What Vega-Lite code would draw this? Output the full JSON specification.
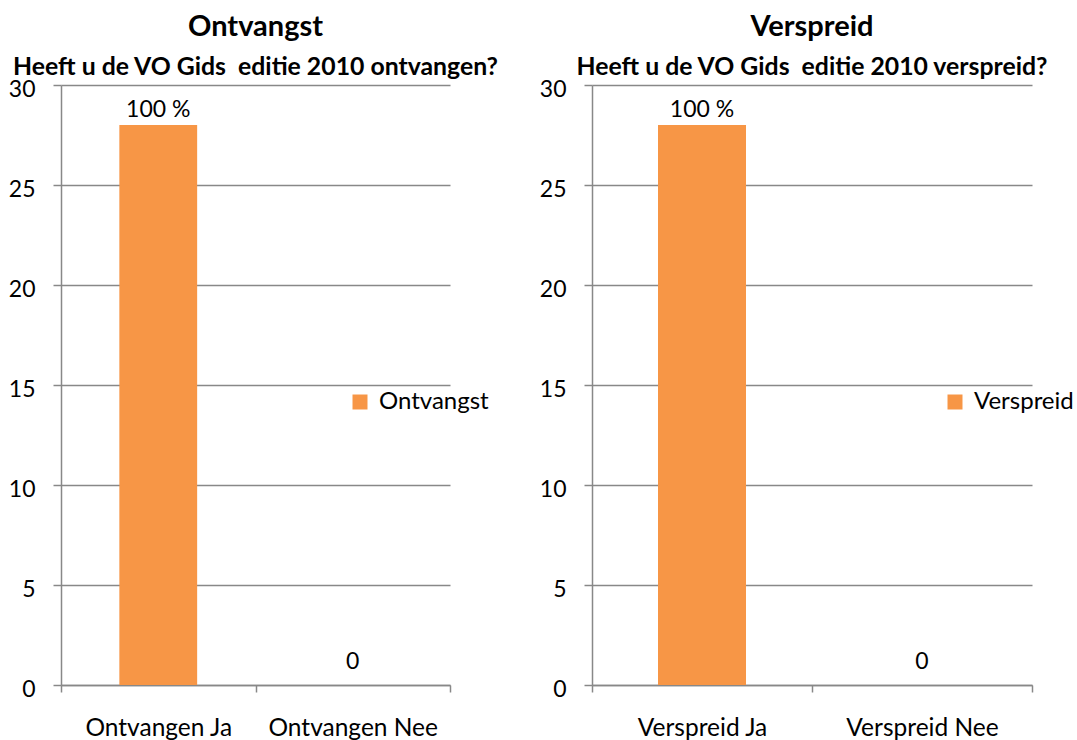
{
  "$schema": "https://vega.github.io/schema/vega-lite/v6.json",
  "padding": {"left": 8, "top": 13, "right": 5, "bottom": 0},
  "background": "white",
  "config": {
    "view": {"stroke": null},
    "font": "Lato",
    "axis": {"labelFont": "Lato", "labelFontSize": 23, "labelColor": "#000000", "domainColor": "#888888", "domainWidth": 1.5, "tickColor": "#888888", "tickWidth": 1.5, "gridColor": "#888888", "gridWidth": 1.5, "title": null},
    "title": {"font": "Lato", "fontSize": 29, "fontWeight": "bold", "color": "#000000", "subtitleFont": "Lato", "subtitleFontSize": 24.8, "subtitleFontWeight": "bold", "subtitleColor": "#000000", "anchor": "middle", "subtitlePadding": 13, "offset": -2},
    "legend": {"labelFont": "Lato", "labelFontSize": 24, "labelColor": "#000000", "symbolType": "square", "symbolSize": 225, "symbolStrokeWidth": 0, "labelOffset": 7, "title": null}
  },
  "bounds": "flush",
  "spacing": 142,
  "resolve": {"scale": {"color": "independent", "x": "independent", "y": "independent"}, "legend": {"color": "independent"}},
  "hconcat": [
    {
      "width": 389,
      "height": 600,
      "title": {"text": "Ontvangst", "subtitle": "Heeft u de VO Gids \u00a0editie 2010 ontvangen?"},
      "data": {"values": [
        {"cat": "Ontvangen Ja", "value": 28, "label": "100 %", "series": "Ontvangst"},
        {"cat": "Ontvangen Nee", "value": 0, "label": "0", "series": "Ontvangst"}
      ]},
      "encoding": {
        "x": {"field": "cat", "type": "nominal", "sort": null, "scale": {"paddingInner": 0, "paddingOuter": 0}, "axis": {"labelAngle": 0, "labelFontSize": 24.5, "tickBand": "extent", "tickSize": 7, "labelPadding": 24, "grid": false}},
        "y": {"field": "value", "type": "quantitative", "scale": {"domain": [0, 30], "nice": false}, "axis": {"values": [0, 5, 10, 15, 20, 25, 30], "tickSize": 8, "labelPadding": 18, "labelOffset": 4, "grid": true}}
      },
      "layer": [
        {"mark": {"type": "bar", "width": {"band": 0.4}}, "encoding": {"color": {"field": "series", "type": "nominal", "scale": {"range": ["#F79646"]}, "legend": {"orient": "none", "legendX": 287, "legendY": 305}}}},
        {"transform": [{"filter": "datum.value > 0"}], "mark": {"type": "text", "baseline": "alphabetic", "dy": -8, "fontSize": 23, "font": "Lato", "fill": "#000000"}, "encoding": {"text": {"field": "label"}}},
        {"transform": [{"filter": "datum.value == 0"}], "mark": {"type": "text", "baseline": "alphabetic", "dy": -16, "fontSize": 23, "font": "Lato", "fill": "#000000"}, "encoding": {"text": {"field": "label"}}}
      ]
    },
    {
      "width": 440,
      "height": 600,
      "title": {"text": "Verspreid", "subtitle": "Heeft u de VO Gids \u00a0editie 2010 verspreid?"},
      "data": {"values": [
        {"cat": "Verspreid Ja", "value": 28, "label": "100 %", "series": "Verspreid"},
        {"cat": "Verspreid Nee", "value": 0, "label": "0", "series": "Verspreid"}
      ]},
      "encoding": {
        "x": {"field": "cat", "type": "nominal", "sort": null, "scale": {"paddingInner": 0, "paddingOuter": 0}, "axis": {"labelAngle": 0, "labelFontSize": 24.5, "tickBand": "extent", "tickSize": 7, "labelPadding": 24, "grid": false}},
        "y": {"field": "value", "type": "quantitative", "scale": {"domain": [0, 30], "nice": false}, "axis": {"values": [0, 5, 10, 15, 20, 25, 30], "tickSize": 8, "labelPadding": 18, "labelOffset": 4, "grid": true}}
      },
      "layer": [
        {"mark": {"type": "bar", "width": {"band": 0.4}}, "encoding": {"color": {"field": "series", "type": "nominal", "scale": {"range": ["#F79646"]}, "legend": {"orient": "none", "legendX": 351, "legendY": 305}}}},
        {"transform": [{"filter": "datum.value > 0"}], "mark": {"type": "text", "baseline": "alphabetic", "dy": -8, "fontSize": 23, "font": "Lato", "fill": "#000000"}, "encoding": {"text": {"field": "label"}}},
        {"transform": [{"filter": "datum.value == 0"}], "mark": {"type": "text", "baseline": "alphabetic", "dy": -16, "fontSize": 23, "font": "Lato", "fill": "#000000"}, "encoding": {"text": {"field": "label"}}}
      ]
    }
  ]
}
